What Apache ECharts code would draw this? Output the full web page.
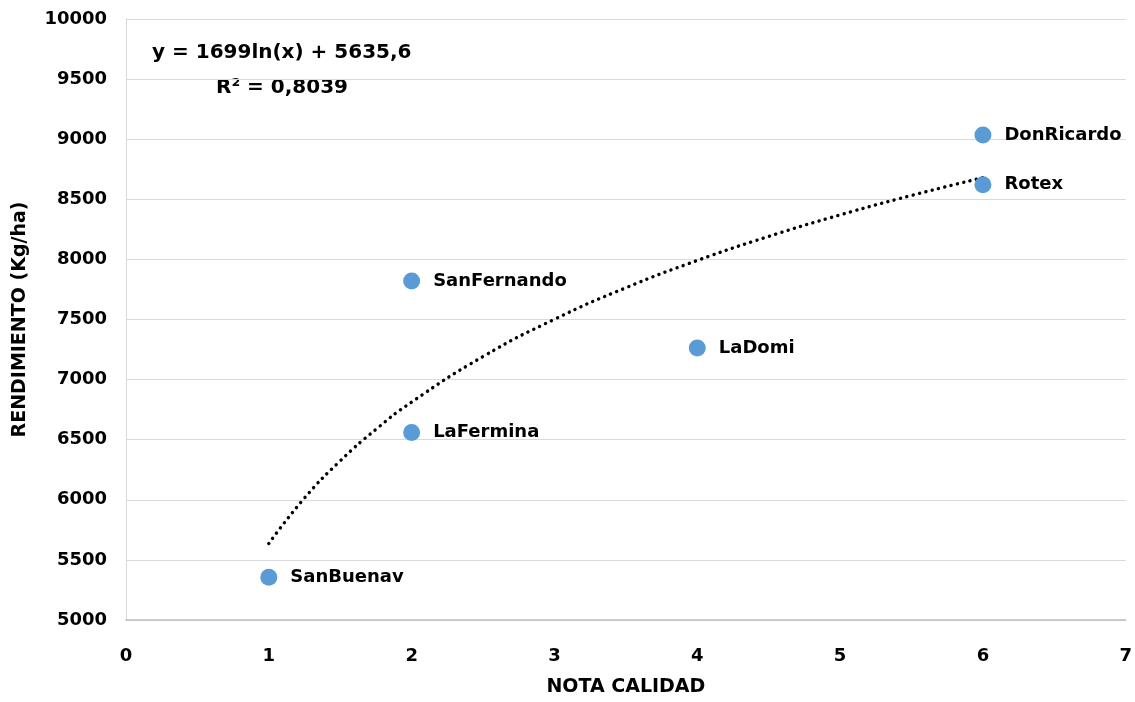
<!DOCTYPE html>
<html>
<head>
<meta charset="utf-8">
<script src="https://cdn.jsdelivr.net/npm/echarts@6/dist/echarts.min.js"></script>
<style>
html,body{margin:0;padding:0;background:#fff;}
#chart{width:1135px;height:702px;}
</style>
</head>
<body>
<div id="chart"></div>
<script>
var names = ['SanBuenav', 'LaFermina', 'SanFernando', 'LaDomi', 'Rotex', 'DonRicardo'];
var notaCalidad = [1, 2, 2, 4, 6, 6];
var rendimiento = [5355, 6560, 7820, 7262, 8622, 9035];
var trendX = [1, 1.25, 1.5, 1.75, 2, 2.5, 3, 3.5, 4, 4.5, 5, 5.5, 6];
var trendY = [5636, 6015, 6324, 6586, 6813, 7192, 7502, 7764, 7991, 8191, 8370, 8532, 8680];
var equationText = 'y = 1699ln(x) + 5635,6';
var r2Text = 'R² = 0,8039';

var FONT = 'DejaVu Sans';
var chart = echarts.init(document.getElementById('chart'));
var scatterData = names.map(function (n, i) { return { name: n, value: [notaCalidad[i], rendimiento[i]] }; });
var trendData = trendX.map(function (x, i) { return [x, trendY[i]]; });

chart.setOption({
  animation: false,
  grid: { left: 126, right: 8, top: 19, bottom: 80, containLabel: false },
  xAxis: {
    type: 'value', min: 0, max: 7, interval: 1,
    name: 'NOTA CALIDAD', nameLocation: 'middle', nameGap: 58,
    nameTextStyle: { fontFamily: FONT, fontWeight: 'bold', fontSize: 19, color: '#000' },
    axisLine: { show: true, lineStyle: { color: '#bfbfbf', width: 1.5 } },
    axisTick: { show: false },
    splitLine: { show: false },
    axisLabel: { fontFamily: FONT, fontWeight: 'bold', fontSize: 18, color: '#000', margin: 27,
      formatter: function (v) { return String(v); } }
  },
  yAxis: {
    type: 'value', min: 5000, max: 10000, interval: 500,
    name: 'RENDIMIENTO (Kg/ha)', nameLocation: 'middle', nameGap: 96, nameRotate: 90,
    nameTextStyle: { fontFamily: FONT, fontWeight: 'bold', fontSize: 19, color: '#000' },
    axisLine: { show: true, lineStyle: { color: '#d9d9d9', width: 1 } },
    axisTick: { show: false },
    splitLine: { show: true, lineStyle: { color: '#d9d9d9', width: 1 } },
    axisLabel: { fontFamily: FONT, fontWeight: 'bold', fontSize: 18, color: '#000', margin: 19,
      formatter: function (v) { return String(v); } }
  },
  series: [
    {
      type: 'line', data: trendData, smooth: true, symbol: 'none', silent: true, z: 3,
      lineStyle: { color: '#000', width: 3.4, type: [0.1, 6.4], cap: 'round' }
    },
    {
      type: 'scatter', data: scatterData, symbolSize: 17, z: 4,
      itemStyle: { color: '#5B9BD5', opacity: 1 },
      label: {
        show: true, position: 'right', distance: 13, opacity: 1,
        formatter: function (p) { return p.name; },
        fontFamily: FONT, fontWeight: 'bold', fontSize: 18, color: '#000'
      }
    }
  ],
  graphic: [
    { type: 'text', left: 152, top: 43, style: { text: equationText, fontFamily: FONT, fontWeight: 'bold', fontSize: 20, fill: '#000' } },
    { type: 'text', left: 216, top: 78, style: { text: r2Text, fontFamily: FONT, fontWeight: 'bold', fontSize: 20, fill: '#000' } }
  ]
});
</script>
</body>
</html>
